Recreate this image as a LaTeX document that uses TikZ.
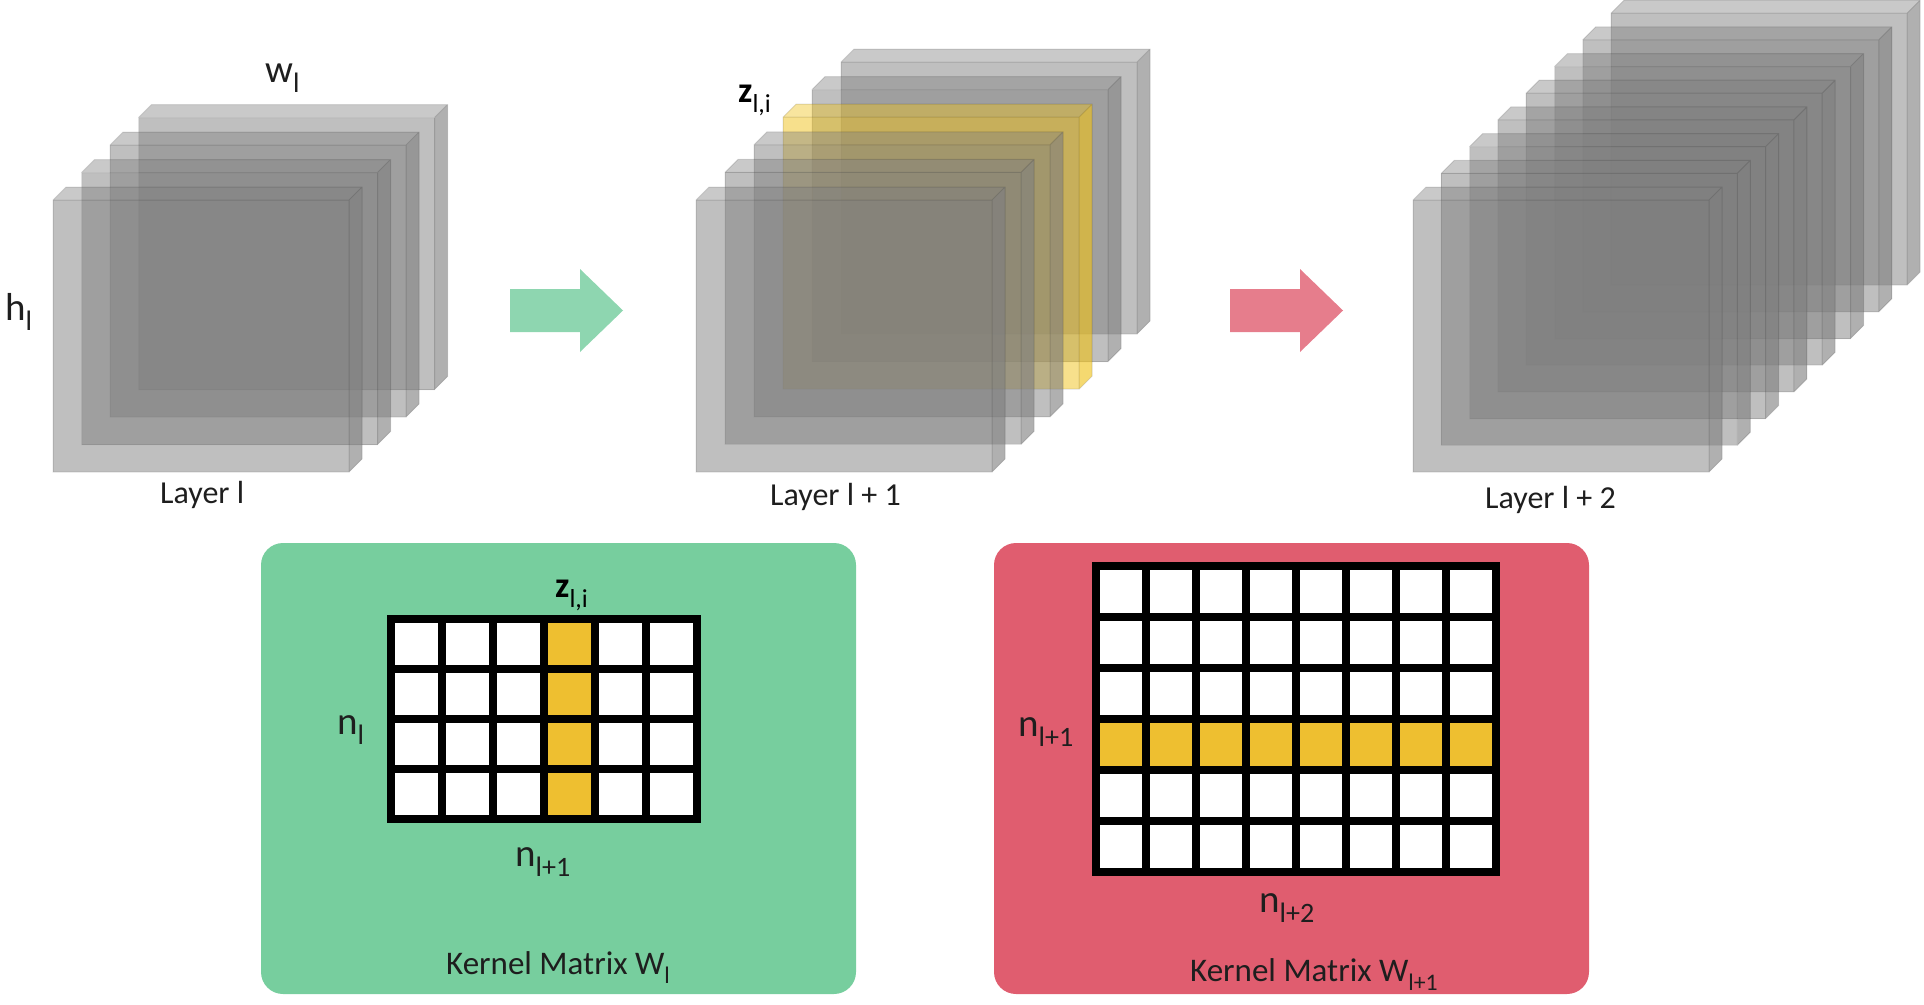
\documentclass[tikz,border=0pt]{standalone}
\usepackage{fontspec}
\setmainfont{Carlito}
\usepackage{graphicx}
\newcommand\lsub[1]{\raisebox{-0.28em}{\scalebox{0.72}{#1}}}
\definecolor{slabgray}{RGB}{127,127,127}
\definecolor{slabyel}{RGB}{239,193,25}
\definecolor{kgreen}{RGB}{119,206,158}
\definecolor{kred}{RGB}{224,93,111}
\definecolor{agreen}{RGB}{142,214,176}
\definecolor{ared}{RGB}{230,125,140}
\definecolor{cellyel}{RGB}{238,191,48}
\definecolor{txt}{RGB}{30,30,30}
\newcommand\drawslab[3]{%
  \fill[#3, fill opacity=.5] (#1,#2) rectangle ++(296,272);
  \fill[#3, fill opacity=.42] (#1,#2) -- ++(13,-13) -- ++(296,0) -- ++(-13,13) -- cycle;
  \fill[#3, fill opacity=.62] (#1+296,#2) -- ++(13,-13) -- ++(0,272) -- ++(-13,13) -- cycle;
  \draw[black, draw opacity=.12, line width=1pt] (#1,#2) rectangle ++(296,272)
     (#1,#2) -- ++(13,-13) -- ++(296,0) -- ++(0,272) -- ++(-13,13) (#1+296,#2) -- ++(13,-13);
}
\tikzset{
  lbl/.style={inner sep=0pt, anchor=base west, text=txt, font=\fontsize{32}{32}\selectfont},
  klbl/.style={inner sep=0pt, anchor=base west, text=txt, font=\fontsize{33}{33}\selectfont},
  dim/.style={inner sep=0pt, anchor=base west, text=txt, font=\fontsize{39}{39}\selectfont},
  zlbl/.style={inner sep=0pt, anchor=base west, text=black, font=\fontsize{36}{36}\selectfont\bfseries},
  panel/.style={rounded corners=22pt},
  gridline/.style={line width=8pt, black},
}
\begin{document}
\begin{tikzpicture}[x=1pt,y=-1pt]
\useasboundingbox (0,0) rectangle (1924,1004);
% Layer l
\foreach \i in {3,2,1,0} {\drawslab{53+28.5*\i}{200-27.5*\i}{slabgray}}
% Layer l+1
\foreach \i in {5,4,...,0} {%
  \ifnum\i=3 \drawslab{696+29*\i}{200-27.6*\i}{slabyel}%
  \else \drawslab{696+29*\i}{200-27.6*\i}{slabgray}\fi}
% Layer l+2
\foreach \i in {7,6,...,0} {\drawslab{1413+28.3*\i}{200-26.7*\i}{slabgray}}
% labels of layers
\node[dim] (wl) at (265,82) {w\lsub{l}};
\node[dim] (hl) at (5,320) {h\lsub{l}};
\node[lbl] (L0) at (160,503) {Layer l};
\node[lbl] (L1) at (770,505) {Layer l + 1};
\node[lbl] (L2) at (1485,508) {Layer l + 2};
\node[zlbl] (ztop) at (738,102) {z\lsub{\textmd{l,i}}};
% arrows
\fill[agreen] (510,289) -- (580,289) -- (580,269) -- (623,310.5) -- (580,352) -- (580,332) -- (510,332) -- cycle;
\fill[ared] (1230,289) -- (1300,289) -- (1300,269) -- (1343,310.5) -- (1300,352) -- (1300,332) -- (1230,332) -- cycle;
% panels
\fill[kgreen, panel] (261,543) rectangle (856,994);
\fill[kred, panel] (994,543) rectangle (1589,994);
% green matrix 6x4
\fill[white] (391,619) rectangle (697,819);
\foreach \r in {0,...,3} {\fill[cellyel] (391+51*3,619+50*\r) rectangle ++(51,50);}
\foreach \c in {1,...,5} {\draw[gridline] (391+51*\c,619) -- ++(0,200);}
\foreach \r in {1,...,3} {\draw[gridline] (391,619+50*\r) -- ++(306,0);}
\draw[gridline] (391,619) rectangle (697,819);
% red matrix 8x6
\fill[white] (1096,566) rectangle (1496,872);
\foreach \c in {0,...,7} {\fill[cellyel] (1096+50*\c,566+51*3) rectangle ++(50,51);}
\foreach \c in {1,...,7} {\draw[gridline] (1096+50*\c,566) -- ++(0,306);}
\foreach \r in {1,...,5} {\draw[gridline] (1096,566+51*\r) -- ++(400,0);}
\draw[gridline] (1096,566) rectangle (1496,872);
% panel labels
\node[zlbl] (zbot) at (555,597) {z\lsub{\textmd{l,i}}};
\node[dim] (nl) at (337,734) {n\lsub{l}};
\node[dim] (nl1) at (515,866) {n\lsub{l+1}};
\node[klbl] (k0) at (446,974) {Kernel Matrix W\lsub{l}};
\node[dim] (nl1b) at (1018,736) {n\lsub{l+1}};
\node[dim] (nl2) at (1259,912) {n\lsub{l+2}};
\node[klbl] (k1) at (1190,981) {Kernel Matrix W\lsub{l+1}};
\end{tikzpicture}
\end{document}
